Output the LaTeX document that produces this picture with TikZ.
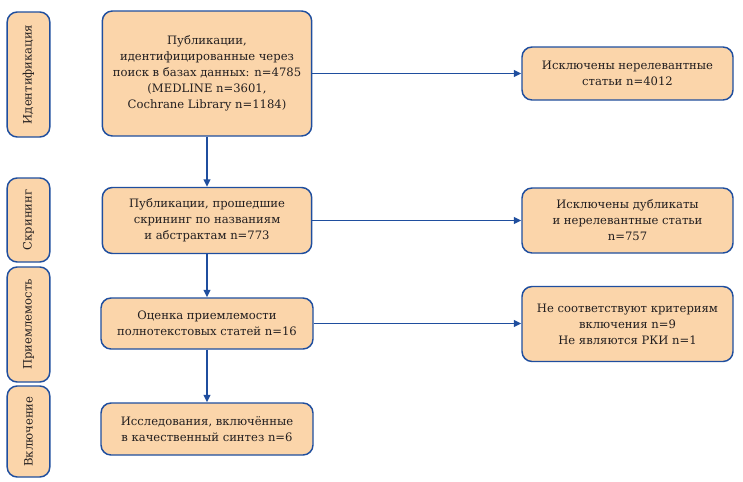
\documentclass[tikz,border=0pt]{standalone}
\usepackage{fontspec}
\newfontfamily\boxfont{DejaVu Serif}
\usetikzlibrary{arrows.meta}
\definecolor{boxfill}{HTML}{FBD5AA}
\definecolor{boxline}{HTML}{1F4E9E}
\definecolor{txt}{HTML}{231F20}
\tikzset{
  box/.style={draw=boxline, fill=boxfill, line width=1.1pt, rounded corners=7.5pt,
    align=center, text=txt, font=\boxfont\fontsize{8.7}{12}\selectfont, inner sep=2pt},
  stage/.style={box, rotate=90},
  conn/.style={draw=boxline, line width=1.1pt, -{Triangle[length=5.5pt,width=5pt]}}
}
\begin{document}
\begin{tikzpicture}[x=0.75pt,y=-0.75pt]
\useasboundingbox (0,0) rectangle (743,482);
% stages
\node[stage, minimum width=93.75pt, minimum height=32pt] (s1) at (28.5,74.5) {Идентификация};
\node[stage, minimum width=63pt, minimum height=32pt] (s2) at (28.5,220) {Скрининг};
\node[stage, minimum width=86.25pt, minimum height=32pt] (s3) at (28.5,324.5) {Приемлемость};
\node[stage, minimum width=68.25pt, minimum height=32pt] (s4) at (28.5,431.5) {Включение};
% main boxes
\node[box, minimum width=157pt, minimum height=93.75pt] (b1) at (207,73.5)
  {Публикации,\\идентифицированные через\\поиск в базах данных: n=4785\\(MEDLINE n=3601,\\Cochrane Library n=1184)};
\node[box, minimum width=157pt, minimum height=49.5pt] (b2) at (207,220.5)
  {Публикации, прошедшие\\скрининг по названиям\\и абстрактам n=773};
\node[box, minimum width=159pt, minimum height=38.25pt] (b3) at (207,323.5)
  {Оценка приемлемости\\полнотекстовых статей n=16};
\node[box, minimum width=159pt, minimum height=39pt] (b4) at (207,429)
  {Исследования, включённые\\в качественный синтез n=6};
% right boxes
\node[box, minimum width=158.25pt, minimum height=39.75pt] (r1) at (627.5,73.5)
  {Исключены нерелевантные\\статьи n=4012};
\node[box, minimum width=158.25pt, minimum height=48.75pt] (r2) at (627.5,220.5)
  {Исключены дубликаты\\и нерелевантные статьи\\n=757};
\node[box, minimum width=158.25pt, minimum height=56.25pt] (r3) at (627.5,324)
  {Не соответствуют критериям\\включения n=9\\Не являются РКИ n=1};
% connectors
\draw[conn] (b1) -- (b2);
\draw[conn] (b2) -- (b3);
\draw[conn] (b3) -- (b4);
\draw[conn] (b1.east) -- (b1.east -| r1.west);
\draw[conn] (b2.east) -- (b2.east -| r2.west);
\draw[conn] (b3.east) -- (b3.east -| r3.west);
\end{tikzpicture}
\end{document}
